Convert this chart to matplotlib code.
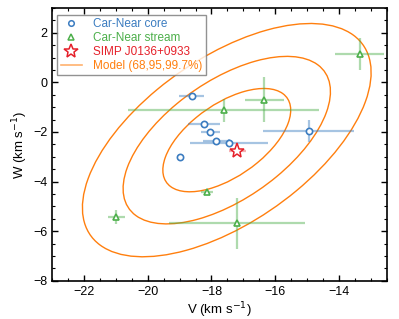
import numpy as np
import matplotlib
matplotlib.use("Agg")
import matplotlib.pyplot as plt
from matplotlib.patches import Ellipse
from matplotlib.ticker import MultipleLocator

plt.rcParams['font.family'] = ['Liberation Sans', 'DejaVu Sans']

# Car-Near core
core_v = [-18.62, -18.24, -18.04, -17.86, -17.45, -18.99, -14.95]
core_w = [-0.55, -1.69, -2.02, -2.36, -2.45, -3.02, -1.96]
core_verr = [0.40, 0.50, 0.30, 0.40, 1.23, 0.0, 1.43]
core_werr = [0.05, 0.05, 0.05, 0.05, 0.17, 0.0, 0.46]

# Car-Near stream
str_v = [-13.35, -16.34, -17.62, -18.14, -20.99, -17.19]
str_w = [1.15, -0.70, -1.13, -4.43, -5.42, -5.69]
str_verr = [0.77, 0.62, 3.00, 0.20, 0.26, 2.13]
str_werr = [0.64, 0.90, 0.45, 0.05, 0.29, 1.03]

# SIMP J0136+0933
simp_v = [-17.19]
simp_w = [-2.75]
simp_verr = [0.26]
simp_werr = [0.10]

# Model
model_center = (-17.52, -2.33)
model_sigma_v = 1.33
model_sigma_w = 1.38
model_rho = 0.58
model_levels = [0.68, 0.95, 0.997]

c_blue = '#3b7cc0'
c_green = '#4caf4a'
c_red = '#e5202a'
c_orange = '#ff7f0e'

fig = plt.figure(figsize=(3.99, 3.19), dpi=100)
ax = fig.add_axes([0.131, 0.120, 0.838, 0.855])

# ellipses
cov = np.array([[model_sigma_v**2, model_rho*model_sigma_v*model_sigma_w],
                [model_rho*model_sigma_v*model_sigma_w, model_sigma_w**2]])
vals, vecs = np.linalg.eigh(cov)
angle = np.degrees(np.arctan2(vecs[1, 1], vecs[0, 1]))
for lev in model_levels:
    k = np.sqrt(-2*np.log(1-lev))
    e = Ellipse(model_center, 2*k*np.sqrt(vals[1]), 2*k*np.sqrt(vals[0]), angle=angle,
                fill=False, edgecolor=c_orange, lw=1.0, zorder=2)
    ax.add_patch(e)

ax.errorbar(core_v, core_w, xerr=core_verr, yerr=core_werr, fmt='none',
            ecolor=c_blue, alpha=0.45, elinewidth=1.6, capsize=0, zorder=3)
ax.errorbar(str_v, str_w, xerr=str_verr, yerr=str_werr, fmt='none',
            ecolor=c_green, alpha=0.45, elinewidth=1.6, capsize=0, zorder=3)
ax.errorbar(simp_v, simp_w, xerr=simp_verr, yerr=simp_werr, fmt='none',
            ecolor=c_red, alpha=0.35, elinewidth=1.6, capsize=0, zorder=3)

ax.plot(core_v, core_w, 'o', ms=4.5, mfc='white', mec=c_blue, mew=1.2, zorder=4)
ax.plot(str_v, str_w, '^', ms=5.0, mfc='white', mec=c_green, mew=1.2, zorder=4)
ax.plot(simp_v, simp_w, '*', ms=11, mfc='white', mec=c_red, mew=1.1, zorder=5)

# legend handles
h1, = ax.plot([], [], 'o', ms=4, mfc='white', mec=c_blue, mew=1.1)
h2, = ax.plot([], [], '^', ms=5, mfc='white', mec=c_green, mew=1.1)
h3, = ax.plot([], [], '*', ms=10, mfc='white', mec=c_red, mew=1.1)
h4, = ax.plot([], [], '-', color=c_orange, lw=1.2, alpha=0.6)
leg = ax.legend([h1, h2, h3, h4],
                ['Car-Near core', 'Car-Near stream', 'SIMP J0136+0933', 'Model (68,95,99.7%)'],
                loc='upper left', fontsize=8.5, frameon=True, fancybox=False,
                edgecolor='#777777', handlelength=1.8, handletextpad=0.9,
                borderpad=0.3, labelspacing=0.15, borderaxespad=0.0,
                bbox_to_anchor=(0.015, 0.975))
leg.get_frame().set_linewidth(1.0)
for t, c in zip(leg.get_texts(), [c_blue, c_green, c_red, c_orange]):
    t.set_color(c)

ax.set_xlim(-23, -12.5)
ax.set_ylim(-8, 3)
ax.xaxis.set_major_locator(MultipleLocator(2))
ax.xaxis.set_minor_locator(MultipleLocator(0.5))
ax.yaxis.set_major_locator(MultipleLocator(2))
ax.yaxis.set_minor_locator(MultipleLocator(0.5))
ax.tick_params(which='both', direction='in', top=True, right=True, labelsize=9)
ax.tick_params(which='major', length=4, width=1)
ax.tick_params(which='minor', length=2.5, width=0.8)
for s in ax.spines.values():
    s.set_linewidth(1.2)
ax.set_xlabel('V (km s$^{-1}$)', fontsize=9.5, labelpad=2)
ax.set_ylabel('W (km s$^{-1}$)', fontsize=9.5, labelpad=2)

fig.savefig('out.png', dpi=100)
